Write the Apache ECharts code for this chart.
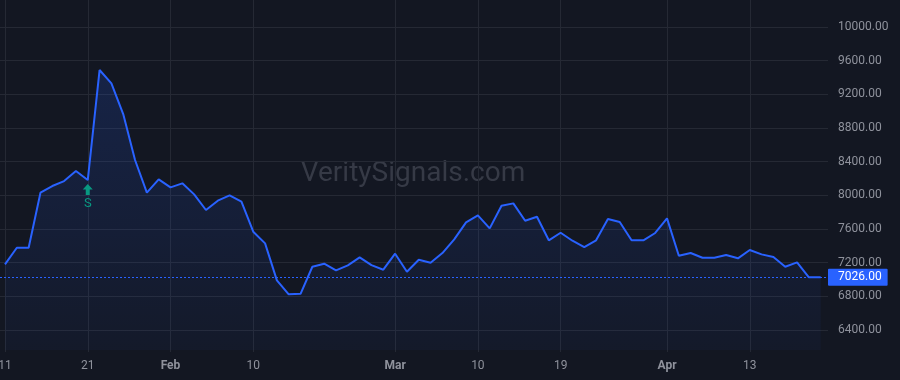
<!DOCTYPE html>
<html>
<head>
<meta charset="utf-8">
<script src="https://cdn.jsdelivr.net/npm/echarts@6/dist/echarts.min.js"></script>
<style>
  html, body { margin: 0; padding: 0; background: #131722; }
  #chart { width: 900px; height: 380px; }
</style>
</head>
<body>
<div id="chart"></div>
<script>
  // closing prices, one per bar
  const prices = [
    7181, 7378, 7378, 8032, 8111, 8170, 8289, 8182, 9489, 9331,
    8966, 8420, 8032, 8190, 8095, 8143, 8012, 7826, 7937, 8000,
    7925, 7568, 7430, 6990, 6824, 6830, 7152, 7188, 7109, 7169,
    7264, 7172, 7117, 7307, 7093, 7235, 7200, 7315, 7478, 7680,
    7763, 7608, 7877, 7905, 7699, 7746, 7466, 7556, 7461, 7386,
    7466, 7719, 7683, 7466, 7466, 7553, 7727, 7283, 7315, 7259,
    7259, 7291, 7252, 7351, 7299, 7267, 7152, 7204, 7026, 7026
  ]
  // bar index -> time label
  const tickIndex = [0, 7, 14, 21, 33, 40, 47, 56, 63]
  const tickLabels = ['11', '21', 'Feb', '10', 'Mar', '10', '19', 'Apr', '13']
  const monthLabels = ['Feb', 'Mar', 'Apr']
  const priceTicks = [6400, 6800, 7200, 7600, 8000, 8400, 8800, 9200, 9600, 10000]
  const lastPrice = 7026
  const signalIndex = 7
  const signalText = 'S'

  const FONT = 'Roboto, "Liberation Sans", sans-serif'
  const gridColor = '#252934'
  const textColor = '#8f929c'
  const blue = '#2962FF'

  const chart = echarts.init(document.getElementById('chart'))

  const option = {
    backgroundColor: '#131722',
    animation: false,
    textStyle: { fontFamily: FONT },
    graphic: [{
      type: 'text',
      z: 0,
      silent: true,
      style: {
        text: 'VeritySignals.com',
        x: 413,
        y: 174,
        align: 'center',
        verticalAlign: 'middle',
        fontSize: 28,
        fontFamily: FONT,
        fill: '#363a46'
      }
    }],
    grid: {
      left: 0,
      right: 72,
      top: 0,
      bottom: 30,
      containLabel: false,
      outerBoundsMode: 'none'
    },
    xAxis: {
      type: 'value',
      min: -0.423,
      max: 69.617,
      axisLine: { show: false },
      axisTick: {
        show: true,
        length: 2,
        lineStyle: { color: gridColor },
        customValues: tickIndex
      },
      axisLabel: {
        customValues: tickIndex,
        color: textColor,
        fontSize: 12,
        margin: 10,
        hideOverlap: false,
        formatter: function (v) {
          const i = tickIndex.indexOf(Math.round(v))
          const t = i >= 0 ? tickLabels[i] : ''
          return monthLabels.indexOf(t) >= 0 ? '{b|' + t + '}' : t
        },
        rich: {
          b: { fontWeight: 'bold', color: textColor, fontSize: 12, fontFamily: FONT }
        }
      },
      splitLine: {
        show: true,
        lineStyle: { color: gridColor, width: 1 }
      }
    },
    yAxis: {
      type: 'value',
      position: 'right',
      min: 6163,
      max: 10321,
      axisLine: { show: false },
      axisTick: { show: false, customValues: priceTicks },
      axisLabel: {
        customValues: priceTicks,
        color: textColor,
        fontSize: 12,
        margin: 10,
        align: 'left',
        formatter: function (v) { return v.toFixed(2) }
      },
      splitLine: {
        show: true,
        lineStyle: { color: gridColor, width: 1 }
      }
    },
    series: [{
      type: 'line',
      data: prices.map(function (p, i) { return [i, p] }),
      symbol: 'none',
      lineStyle: { color: blue, width: 2 },
      areaStyle: {
        origin: 'start',
        color: new echarts.graphic.LinearGradient(0, 0, 0, 1, [
          { offset: 0, color: 'rgba(41,98,255,0.24)' },
          { offset: 1, color: 'rgba(41,98,255,0.05)' }
        ])
      },
      markLine: {
        silent: true,
        symbol: ['none', 'none'],
        lineStyle: { color: blue, type: [2, 2], width: 1 },
        label: {
          show: true,
          position: 'end',
          distance: 0,
          formatter: function () { return lastPrice.toFixed(2) },
          color: '#ffffff',
          backgroundColor: blue,
          fontSize: 12,
          fontFamily: FONT,
          padding: [3, 6, 2, 10],
          borderRadius: 1
        },
        data: [{ yAxis: lastPrice }]
      },
      markPoint: {
        silent: true,
        symbol: 'path://M5,0 L10,5.5 L7,5.5 L7,11 L3,11 L3,5.5 L0,5.5 Z',
        symbolSize: [10, 11],
        symbolOffset: [0, 9.5],
        itemStyle: { color: '#089981' },
        label: {
          show: true,
          position: 'bottom',
          distance: 2,
          formatter: signalText,
          color: '#089981',
          fontSize: 13,
          fontFamily: FONT
        },
        data: [{ coord: [signalIndex, prices[signalIndex]] }]
      }
    }]
  }

  chart.setOption(option)
</script>
</body>
</html>
